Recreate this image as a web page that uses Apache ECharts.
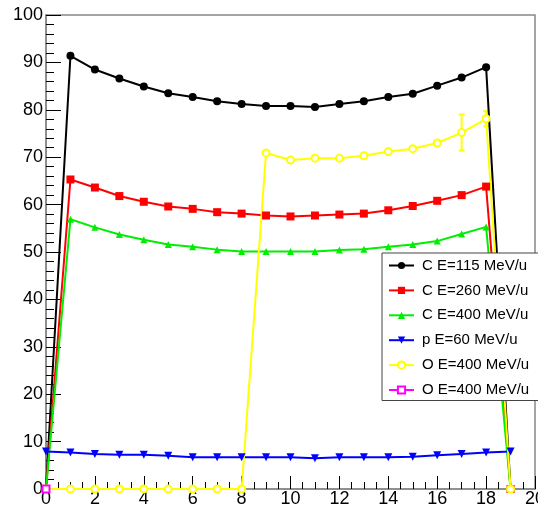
<!DOCTYPE html>
<html>
<head>
<meta charset="utf-8">
<script src="https://cdn.jsdelivr.net/npm/echarts@6/dist/echarts.min.js"></script>
<style>html,body{margin:0;padding:0;background:#fff}#c{width:538px;height:509px}</style>
</head>
<body>
<div id="c"></div>
<script>
var xs = [0,1,2,3,4,5,6,7,8,9,10,11,12,13,14,15,16,17,18,19];
var c115 = [0, 91.4, 88.5, 86.6, 84.9, 83.5, 82.7, 81.8, 81.2, 80.8, 80.8, 80.6, 81.2, 81.8, 82.7, 83.4, 85.1, 86.8, 89.0, 0];
var c260 = [0, 65.3, 63.6, 61.8, 60.6, 59.6, 59.1, 58.4, 58.1, 57.7, 57.5, 57.7, 57.9, 58.1, 58.8, 59.7, 60.8, 62.0, 63.8, 0];
var c400 = [0, 56.9, 55.2, 53.7, 52.6, 51.6, 51.1, 50.5, 50.1, 50.1, 50.1, 50.1, 50.4, 50.6, 51.1, 51.6, 52.3, 53.8, 55.3, 0];
var p60 = [7.9, 7.7, 7.4, 7.2, 7.2, 7.0, 6.7, 6.7, 6.7, 6.7, 6.7, 6.5, 6.7, 6.7, 6.7, 6.8, 7.1, 7.4, 7.7, 7.9];
var o400 = [0, 0, 0, 0, 0, 0, 0, 0, 0, 70.9, 69.4, 69.8, 69.8, 70.3, 71.2, 71.8, 73.0, 75.2, 78.1, 0];
var o400Err = [0, 0, 0, 0, 0, 0, 0, 0, 0, 0, 0, 0, 0, 0, 0, 0, 0, 3.8, 1.6, 0];
var o400bX = [0];
var o400bY = [0];
var names = ['C E=115 MeV/u', 'C E=260 MeV/u', 'C E=400 MeV/u', 'p E=60 MeV/u', 'O E=400 MeV/u', 'O E=400 MeV/u '];

function pairs(x, y) { return x.map(function (v, i) { return [v, y[i]]; }); }

var errData = xs.map(function (v, i) { return [v, o400[i] - o400Err[i], o400[i] + o400Err[i]]; })
  .filter(function (d) { return d[2] > d[1]; });

var font = 'Liberation Sans, Arial, Helvetica, sans-serif';
var chart = echarts.init(document.getElementById('c'));
chart.setOption({
  animation: false,
  backgroundColor: '#fff',
  grid: { left: 46, right: 3, top: 15, bottom: 20, show: true, borderColor: '#888', borderWidth: 1.5, backgroundColor: 'transparent', containLabel: false, outerBoundsMode: 'none' },
  xAxis: {
    type: 'value', min: 0, max: 20, interval: 2,
    axisLine: { show: true, onZero: false, lineStyle: { color: '#888', width: 1.5 } },
    axisTick: { show: true, inside: true, length: 13, lineStyle: { color: '#000' } },
    minorTick: { show: true, splitNumber: 4, length: 7, lineStyle: { color: '#000' } },
    axisLabel: { color: '#000', fontSize: 18, fontFamily: font, margin: 1, showMaxLabel: true },
    splitLine: { show: false }
  },
  yAxis: {
    type: 'value', min: 0, max: 100, interval: 10,
    axisLine: { show: true, onZero: false, lineStyle: { color: '#888', width: 1.5 } },
    axisTick: { show: true, inside: true, length: 15, lineStyle: { color: '#000' } },
    minorTick: { show: true, splitNumber: 5, length: 8, lineStyle: { color: '#000' } },
    axisLabel: { color: '#000', fontSize: 18, fontFamily: font, margin: 3 },
    splitLine: { show: false }
  },
  legend: {
    orient: 'vertical', left: 382, top: 253,
    backgroundColor: '#fff', borderColor: '#444', borderWidth: 1,
    padding: [5, 6, 3, 6], itemWidth: 25, itemHeight: 9, itemGap: 9.9,
    textStyle: { fontSize: 15, fontFamily: font, color: '#000', padding: [0, 0, 0, 3] },
    data: names
  },
  series: [
    { name: names[0], type: 'line', data: pairs(xs, c115), color: '#000', symbol: 'circle', symbolSize: 8, lineStyle: { width: 2 } },
    { name: names[1], type: 'line', data: pairs(xs, c260), color: '#ff0000', symbol: 'rect', symbolSize: 8, lineStyle: { width: 2 } },
    { name: names[2], type: 'line', data: pairs(xs, c400), color: '#00ee00', symbol: 'triangle', symbolSize: 7, lineStyle: { width: 2 } },
    { name: names[3], type: 'line', data: pairs(xs, p60), color: '#0000ff', symbol: 'triangle', symbolRotate: 180, symbolSize: 8, lineStyle: { width: 2 } },
    { name: names[4], type: 'line', data: pairs(xs, o400), color: '#ffff00', symbol: 'emptyCircle', symbolSize: 7, lineStyle: { width: 2 }, itemStyle: { borderWidth: 1 } },
    { name: names[4] + 'err', type: 'custom', data: errData, z: 3,
      renderItem: function (params, api) {
        var x = api.value(0);
        var lo = api.coord([x, api.value(1)]);
        var hi = api.coord([x, api.value(2)]);
        var st = { stroke: '#ffff00', lineWidth: 2 };
        return { type: 'group', children: [
          { type: 'line', shape: { x1: lo[0], y1: lo[1], x2: hi[0], y2: hi[1] }, style: st },
          { type: 'line', shape: { x1: lo[0] - 3, y1: lo[1], x2: lo[0] + 3, y2: lo[1] }, style: st },
          { type: 'line', shape: { x1: hi[0] - 3, y1: hi[1], x2: hi[0] + 3, y2: hi[1] }, style: st }
        ] };
      } },
    { name: names[5], type: 'line', data: pairs(o400bX, o400bY), color: '#ff00ff', symbol: 'emptyRect', symbolSize: 7, lineStyle: { width: 2 }, itemStyle: { borderWidth: 1 } }
  ]
});
</script>
</body>
</html>
